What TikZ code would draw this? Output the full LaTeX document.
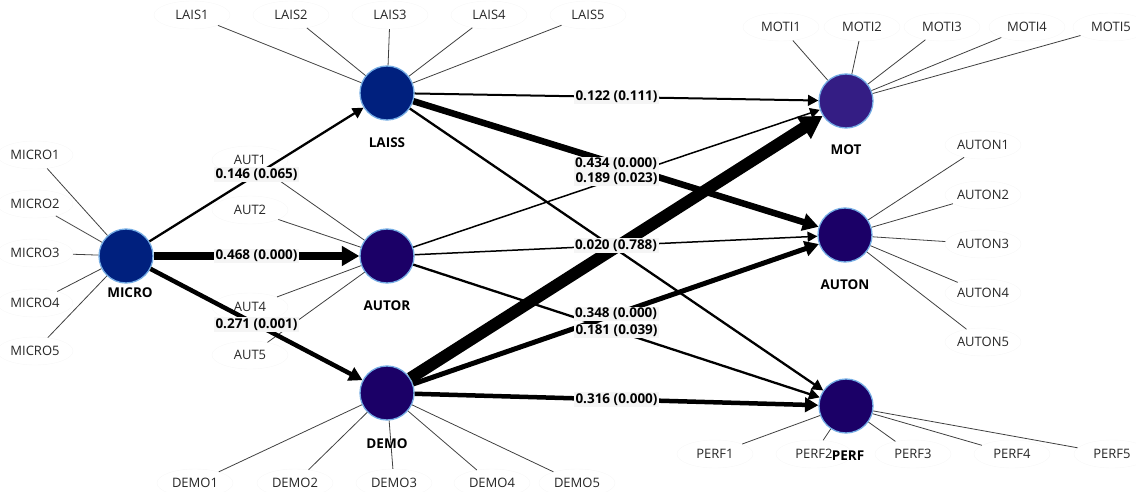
\documentclass[tikz,border=0pt]{standalone}
\usepackage{fontspec}
\setmainfont{Open Sans}
\usetikzlibrary{positioning,arrows.meta,shapes.geometric}
\definecolor{navy}{HTML}{00207E}
\definecolor{indigo}{HTML}{1B0067}
\definecolor{violet}{HTML}{341D84}
\definecolor{rim}{HTML}{74ACE4}

\begin{document}
\begin{tikzpicture}[
  x=1pt, y=-1pt,
  font=\fontsize{13}{15}\selectfont,
  construct/.style={circle, draw=rim, line width=1.3pt, minimum size=54pt, inner sep=0pt},
  cname/.style={font=\fontsize{13.5}{15}\selectfont\bfseries, inner sep=0pt},
  indicator/.style={ellipse, draw=black!3, minimum width=76pt, minimum height=28pt,
                    inner sep=0pt, text=black!85},
  loading/.style={line width=0.8pt, black!75},
  effect/.style={-{Triangle[length=8pt 1.2, width=8pt 1.4]}, line width=#1},
  coef/.style={font=\fontsize{13.5}{15}\selectfont\bfseries, fill=black!4, inner sep=1.5pt},
]
  \useasboundingbox (0,0) rectangle (1136,492);

  \node[construct, fill=navy]   (micro) at (126,256) {};
  \node[construct, fill=navy]   (laiss) at (387,93)  {};
  \node[construct, fill=indigo] (autor) at (387,256) {};
  \node[construct, fill=indigo] (demo)  at (387,393) {};
  \node[construct, fill=violet] (mot)   at (846,101) {};
  \node[construct, fill=indigo] (auton) at (845,235) {};
  \node[construct, fill=indigo] (perf)  at (846,406) {};

  \foreach \i/\y in {1/155,2/204,3/253,4/303,5/351}
    {\node[indicator] (micro\i) at (35,\y) {MICRO\i}; \draw[loading] (micro\i) -- (micro);}
  \foreach \i/\x in {1/192,2/291,3/390,4/489,5/588}
    {\node[indicator] (lais\i) at (\x,15) {LAIS\i}; \draw[loading] (lais\i) -- (laiss);}
  \foreach \i/\y in {1/160,2/210,4/307,5/355}
    {\node[indicator] (aut\i) at (250,\y) {AUT\i}; \draw[loading] (aut\i) -- (autor);}
  \foreach \i/\x in {1/195,2/295,3/394,4/492,5/577}
    {\node[indicator] (demo\i) at (\x,483) {DEMO\i}; \draw[loading] (demo\i) -- (demo);}
  \foreach \i/\x in {1/781,2/862,3/942,4/1027,5/1111}
    {\node[indicator] (moti\i) at (\x,27) {MOTI\i}; \draw[loading] (moti\i) -- (mot);}
  \foreach \i/\y in {1/145,2/195,3/244,4/293,5/342}
    {\node[indicator] (auton\i) at (983,\y) {AUTON\i}; \draw[loading] (auton\i) -- (auton);}
  \foreach \i/\x in {1/715,2/814,3/913,4/1012,5/1112}
    {\node[indicator] (perf\i) at (\x,454) {PERF\i}; \draw[loading] (perf\i) -- (perf);}

  \node[cname, below=4pt of micro, xshift=4pt] (microname) {MICRO};
  \node[cname, below=17pt of laiss] (laissname) {LAISS};
  \node[cname, below=17pt of autor] (autorname) {AUTOR};
  \node[cname, below=18pt of demo]  (demoname)  {DEMO};
  \node[cname, below=16pt of mot]   (motname)   {MOT};
  \node[cname, below=17pt of auton] (autonname) {AUTON};
  \node[cname, below=17pt of perf, xshift=2pt] (perfname) {PERF};

  \draw[effect=2.3pt] (micro) -- coordinate (m1) (laiss);
  \draw[effect=8pt]   (micro) -- coordinate (m2) (autor);
  \draw[effect=4.5pt] (micro) -- coordinate (m3) (demo);
  \draw[effect=2pt]   (laiss) -- coordinate (m4) (mot);
  \draw[effect=6.5pt] (laiss) -- coordinate (m5) (auton);
  \draw[effect=2.3pt] (laiss) -- (perf);
  \draw[effect=1.5pt] (autor) -- coordinate (m6) (mot);
  \draw[effect=1.5pt] (autor) -- coordinate (m7) (auton);
  \draw[effect=2.3pt] (autor) -- coordinate (m8) (perf);
  \draw[effect=12pt]  (demo)  -- (mot);
  \draw[effect=5pt]   (demo)  -- coordinate (m9) (auton);
  \draw[effect=4.5pt] (demo)  -- coordinate (m10) (perf);

  \node[coef] (c1) at (m1) {0.146 (0.065)};
  \node[coef] (c2) at (m2) {0.468 (0.000)};
  \node[coef] (c3) at (m3) {0.271 (0.001)};
  \node[coef] (c4) at (m4) {0.122 (0.111)};
  \node[coef] (c5) at (m5) {0.434 (0.000)};
  \node[coef] (c6) at (m6) {0.189 (0.023)};
  \node[coef] (c7) at (m7) {0.020 (0.788)};
  \node[coef] (c8) at (m8) {0.181 (0.039)};
  \node[coef] (c9) at (m9) {0.348 (0.000)};
  \node[coef] (c10) at (m10) {0.316 (0.000)};
\end{tikzpicture}
\end{document}
